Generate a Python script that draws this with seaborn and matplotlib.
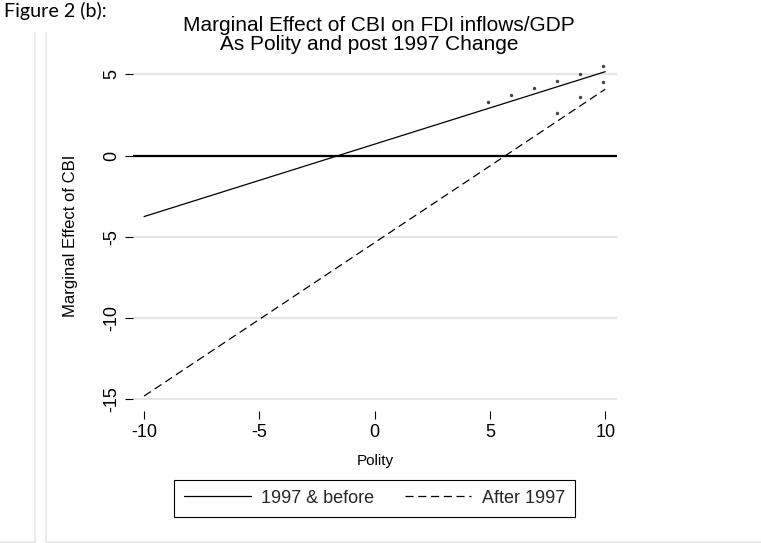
import matplotlib
matplotlib.use("Agg")
import matplotlib.pyplot as plt
from matplotlib.lines import Line2D
import pandas as pd
import seaborn as sns

# Marginal effect of CBI at the ends of the Polity range, by period
polity = [-10, 10]
effect_pre = [-3.75, 5.17]
effect_post = [-14.8, 4.09]

# Significance markers drawn next to each line
sig_pre_x = [4.9, 5.9, 6.9, 7.9, 8.9, 9.9]
sig_pre_y = [3.29, 3.72, 4.15, 4.58, 5.01, 5.50]
sig_post_x = [7.9, 8.9, 9.9]
sig_post_y = [2.61, 3.60, 4.52]

series_labels = ["1997 & before", "After 1997"]
x_ticks = [-10, -5, 0, 5, 10]
y_ticks = [-15, -10, -5, 0, 5]

sns.set_theme(style="white")
plt.rcParams["font.family"] = ["Liberation Sans", "DejaVu Sans"]

W, H = 761, 543
fig = plt.figure(figsize=(W / 100, H / 100), dpi=100)
ax = fig.add_axes([133 / W, 1 - 411 / H, 484 / W, 351 / H])

lines_df = pd.DataFrame({
    "polity": polity + polity,
    "effect": effect_pre + effect_post,
    "period": [series_labels[0]] * len(polity) + [series_labels[1]] * len(polity),
})
dash_pre = ""
dash_post = (6.5, 3.7)
sns.lineplot(data=lines_df, x="polity", y="effect", style="period",
             dashes={series_labels[0]: dash_pre, series_labels[1]: dash_post},
             color="black", linewidth=0.9, legend=False, ax=ax, zorder=3)

sns.scatterplot(x=sig_pre_x, y=sig_pre_y, color="#444444", s=6, linewidth=0,
                ax=ax, zorder=4)
sns.scatterplot(x=sig_post_x, y=sig_post_y, color="#444444", s=6, linewidth=0,
                ax=ax, zorder=4)

ax.axhline(0, color="black", linewidth=1.6, zorder=2)

ax.set_xlim(-10.48, 10.51)
ax.set_ylim(-15.72, 5.89)
ax.set_xticks(x_ticks)
ax.set_yticks(y_ticks)
ax.set_xticklabels([str(t) for t in x_ticks])
ax.set_yticklabels([str(t) for t in y_ticks])
ax.grid(axis="y", color="#e6e6e6", linewidth=1.5)
ax.grid(axis="x", visible=False)
ax.set_axisbelow(True)
for s in ax.spines.values():
    s.set_visible(False)

ax.tick_params(axis="both", which="major", bottom=True, left=True,
               direction="out", color="black", width=0.8, labelsize=13,
               labelcolor="black")
ax.tick_params(axis="x", length=5.5, pad=4)
ax.tick_params(axis="y", length=5.8, pad=3.6, labelrotation=90)
for lab in ax.get_yticklabels():
    lab.set_va("center")

ax.set_xlabel("Polity", fontsize=11, color="black")
ax.set_ylabel("Marginal Effect of CBI", fontsize=12, color="black")
ax.xaxis.set_label_coords(0.5, -50 / 351)
ax.xaxis.label.set_va("center")
ax.yaxis.set_label_coords((70.5 - 133) / 484, 0.5)
ax.yaxis.label.set_va("center")

fig.text(379.3 / W, 1 - 31 / H, "Marginal Effect of CBI on FDI inflows/GDP",
         ha="center", va="baseline", fontsize=15, color="black")
fig.text(369.5 / W, 1 - 50 / H, "As Polity and post 1997 Change",
         ha="center", va="baseline", fontsize=15, color="black")

fig.text(4 / W, 1 - 17 / H, "Figure 2 (b):", ha="left", va="baseline",
         fontsize=14.2, family=["Lato", "DejaVu Sans"], color="black")

handles = [
    Line2D([], [], color="black", linewidth=0.9, linestyle="-"),
    Line2D([], [], color="black", linewidth=0.9, linestyle=(0, dash_post)),
]
leg = fig.legend(handles, series_labels, loc="center",
                 bbox_to_anchor=(374.5 / W, 1 - 498.3 / H), ncol=2,
                 frameon=True, fancybox=False, framealpha=1, edgecolor="black",
                 fontsize=13, handlelength=3.7, handletextpad=0.58,
                 columnspacing=1.67, borderpad=0.55)
leg.get_frame().set_linewidth(0.8)

# Page border lines around the figure
border = "#e6e6e6"
for x in (35, 45.7):
    fig.add_artist(Line2D([x / W, x / W], [1 - 32 / H, 1 - 541.7 / H],
                          color=border, linewidth=1.1))
fig.add_artist(Line2D([0, 35 / W], [1 - 541.7 / H] * 2, color=border, linewidth=1.1))
fig.add_artist(Line2D([45.7 / W, 1], [1 - 541.7 / H] * 2, color=border, linewidth=1.1))

fig.savefig("out.png", dpi=100, facecolor="white")
